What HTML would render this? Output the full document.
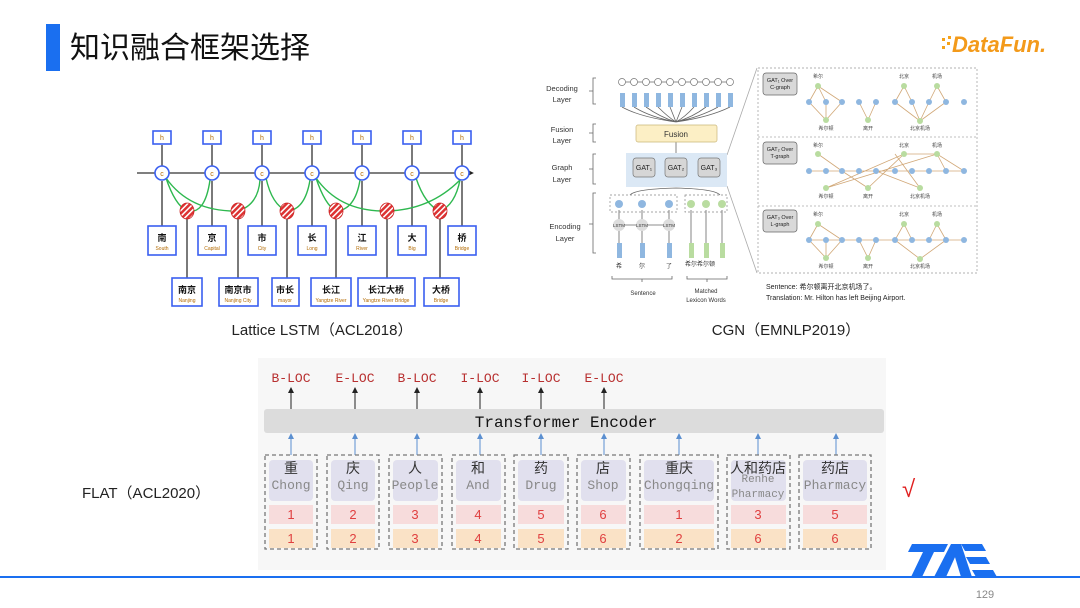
<!DOCTYPE html>
<html><head><meta charset="utf-8"><style>
html,body{margin:0;padding:0;background:#fff;}
svg{display:block;}
text{font-family:"Liberation Sans","Noto Sans CJK SC",sans-serif;}
.m text, text.m{font-family:"Liberation Mono","Noto Sans CJK SC",monospace;}
</style></head><body>
<svg width="1080" height="608" viewBox="0 0 1080 608" xmlns="http://www.w3.org/2000/svg">
<defs>
<marker id="ak" markerWidth="6" markerHeight="6" refX="3" refY="3" orient="auto"><path d="M0,0 L6,3 L0,6z" fill="#222"/></marker>
<marker id="ab" markerWidth="6" markerHeight="6" refX="3" refY="3" orient="auto"><path d="M0,0 L6,3 L0,6z" fill="#5b8fd0"/></marker>
<pattern id="hat" width="4" height="4" patternUnits="userSpaceOnUse" patternTransform="rotate(45)"><rect width="4" height="4" fill="#d33"/><rect width="1.5" height="4" fill="#fff"/></pattern>
</defs>

<!-- title -->
<rect x="46" y="24" width="14" height="47" fill="#1a6ff0"/>
<text x="70" y="58" font-size="30" fill="#111">知识融合框架选择</text>
<!-- DataFun logo -->
<g fill="#f6a21a"><rect x="942" y="38" width="3" height="3"/><rect x="947" y="42" width="3" height="3"/><rect x="942" y="46" width="3" height="3"/><rect x="948" y="36" width="3" height="3"/></g>
<text x="952" y="52" font-size="22" font-weight="bold" font-style="italic" fill="#f39a1a">DataFun.</text>

<!-- Lattice LSTM -->
<g stroke="#333" stroke-width="1.3" fill="none">
<line x1="137" y1="173" x2="470" y2="173" marker-end="url(#ak)"/>
</g>
<g stroke="#333" stroke-width="1.3">
<line x1="162" y1="166" x2="162" y2="145"/><line x1="212" y1="166" x2="212" y2="145"/><line x1="262" y1="166" x2="262" y2="145"/><line x1="312" y1="166" x2="312" y2="145"/><line x1="362" y1="166" x2="362" y2="145"/><line x1="412" y1="166" x2="412" y2="145"/><line x1="462" y1="166" x2="462" y2="145"/>
<line x1="162" y1="226" x2="162" y2="181"/><line x1="212" y1="226" x2="212" y2="181"/><line x1="262" y1="226" x2="262" y2="181"/><line x1="312" y1="226" x2="312" y2="181"/><line x1="362" y1="226" x2="362" y2="181"/><line x1="412" y1="226" x2="412" y2="181"/><line x1="462" y1="226" x2="462" y2="181"/>
<line x1="187" y1="278" x2="187" y2="218"/><line x1="238" y1="278" x2="238" y2="218"/><line x1="287" y1="278" x2="287" y2="218"/><line x1="336" y1="278" x2="336" y2="218"/><line x1="387" y1="278" x2="387" y2="218"/><line x1="440" y1="278" x2="440" y2="218"/>
</g>
<g stroke="#2eb84f" stroke-width="1.4" fill="none">
<path d="M166,178 Q175,205 187,211 Q205,215 210,180"/>
<path d="M166,178 Q190,212 238,211 Q258,205 260,180"/>
<path d="M266,178 Q272,205 287,211 Q305,210 310,180"/>
<path d="M316,178 Q325,205 336,211 Q355,210 360,180"/>
<path d="M316,178 Q340,212 387,211 Q430,210 460,180"/>
<path d="M416,178 Q425,205 440,211 Q455,205 460,180"/>
</g>
<g fill="url(#hat)" stroke="#c22" stroke-width="0.8">
<ellipse cx="187" cy="211" rx="7" ry="8"/><ellipse cx="238" cy="211" rx="7" ry="8"/><ellipse cx="287" cy="211" rx="7" ry="8"/><ellipse cx="336" cy="211" rx="7" ry="8"/><ellipse cx="387" cy="211" rx="7" ry="8"/><ellipse cx="440" cy="211" rx="7" ry="8"/>
</g>
<g fill="#fff" stroke="#3a5ff0" stroke-width="1.6">
<circle cx="162" cy="173" r="7"/><circle cx="212" cy="173" r="7"/><circle cx="262" cy="173" r="7"/><circle cx="312" cy="173" r="7"/><circle cx="362" cy="173" r="7"/><circle cx="412" cy="173" r="7"/><circle cx="462" cy="173" r="7"/>
<rect x="153" y="131" width="18" height="13"/><rect x="203" y="131" width="18" height="13"/><rect x="253" y="131" width="18" height="13"/><rect x="303" y="131" width="18" height="13"/><rect x="353" y="131" width="18" height="13"/><rect x="403" y="131" width="18" height="13"/><rect x="453" y="131" width="18" height="13"/>
<rect x="148" y="226" width="28" height="29"/><rect x="198" y="226" width="28" height="29"/><rect x="248" y="226" width="28" height="29"/><rect x="298" y="226" width="28" height="29"/><rect x="348" y="226" width="28" height="29"/><rect x="398" y="226" width="28" height="29"/><rect x="448" y="226" width="28" height="29"/>
<rect x="172" y="278" width="30" height="28"/><rect x="219" y="278" width="39" height="28"/><rect x="272" y="278" width="27" height="28"/><rect x="311" y="278" width="40" height="28"/><rect x="358" y="278" width="57" height="28"/><rect x="424" y="278" width="35" height="28"/>
</g>
<g font-size="7" fill="#b36a00" text-anchor="middle">
<text x="162" y="140">h</text><text x="212" y="140">h</text><text x="262" y="140">h</text><text x="312" y="140">h</text><text x="362" y="140">h</text><text x="412" y="140">h</text><text x="462" y="140">h</text>
<text x="162" y="176">c</text><text x="212" y="176">c</text><text x="262" y="176">c</text><text x="312" y="176">c</text><text x="362" y="176">c</text><text x="412" y="176">c</text><text x="462" y="176">c</text>
</g>
<g font-size="9" font-weight="bold" fill="#111" text-anchor="middle">
<text x="162" y="241">南</text><text x="212" y="241">京</text><text x="262" y="241">市</text><text x="312" y="241">长</text><text x="362" y="241">江</text><text x="412" y="241">大</text><text x="462" y="241">桥</text>
<text x="187" y="293">南京</text><text x="238" y="293">南京市</text><text x="285" y="293">市长</text><text x="331" y="293">长江</text><text x="386" y="293">长江大桥</text><text x="441" y="293">大桥</text>
</g>
<g font-size="5" fill="#b36a00" text-anchor="middle">
<text x="162" y="250">South</text><text x="212" y="250">Capital</text><text x="262" y="250">City</text><text x="312" y="250">Long</text><text x="362" y="250">River</text><text x="412" y="250">Big</text><text x="462" y="250">Bridge</text>
<text x="187" y="302">Nanjing</text><text x="238" y="302">Nanjing City</text><text x="285" y="302">mayor</text><text x="331" y="302">Yangtze River</text><text x="386" y="302">Yangtze River Bridge</text><text x="441" y="302">Bridge</text>
</g>
<text x="322" y="335" font-size="15" fill="#222" text-anchor="middle">Lattice LSTM（ACL2018）</text>

<!-- CGN left -->
<g font-size="7.5" fill="#333" text-anchor="middle">
<text x="562" y="91">Decoding</text><text x="562" y="102">Layer</text>
<text x="562" y="132">Fusion</text><text x="562" y="143">Layer</text>
<text x="562" y="170">Graph</text><text x="562" y="182">Layer</text>
<text x="565" y="229">Encoding</text><text x="565" y="241">Layer</text>
</g>
<g stroke="#666" fill="none" stroke-width="0.8">
<path d="M596,78 h-3 v26 h3 M593,91 h-4"/><path d="M596,124 h-3 v18 h3 M593,133 h-4"/><path d="M596,154 h-3 v30 h3 M593,169 h-4"/><path d="M596,193 h-3 v60 h3 M593,224 h-4"/>
<line x1="621" y1="82" x2="730" y2="82"/>
<path d="M622,107 Q640,117 676,122 M634,107 Q650,117 676,122 M646,107 Q660,117 676,122 M658,107 Q668,117 676,122 M670,107 L676,122 M682,107 L676,122 M694,107 Q685,117 676,122 M706,107 Q693,117 676,122 M718,107 Q700,117 676,122 M730,107 Q710,117 676,122"/>
<line x1="676" y1="142" x2="676" y2="153"/>
<path d="M630,195 Q635,189 676,188 Q715,189 720,195"/>
<line x1="619" y1="210" x2="619" y2="243"/><line x1="642" y1="210" x2="642" y2="243"/><line x1="669" y1="210" x2="669" y2="243"/>
<line x1="691" y1="210" x2="691" y2="243"/><line x1="706" y1="210" x2="706" y2="243"/><line x1="722" y1="210" x2="722" y2="243"/>
<line x1="619" y1="225" x2="669" y2="225"/>
<path d="M612,276 v3 h60 v-3 M642,279 v3 M687,276 v3 h40 v-3 M707,279 v3"/>
<line x1="727" y1="155" x2="757" y2="68" stroke="#aaa"/><line x1="727" y1="186" x2="757" y2="273" stroke="#aaa"/>
</g>
<g fill="#fff" stroke="#777" stroke-width="0.7">
<circle cx="622" cy="82" r="3.5"/><circle cx="634" cy="82" r="3.5"/><circle cx="646" cy="82" r="3.5"/><circle cx="658" cy="82" r="3.5"/><circle cx="670" cy="82" r="3.5"/><circle cx="682" cy="82" r="3.5"/><circle cx="694" cy="82" r="3.5"/><circle cx="706" cy="82" r="3.5"/><circle cx="718" cy="82" r="3.5"/><circle cx="730" cy="82" r="3.5"/>
</g>
<g fill="#8fb7e0">
<rect x="620" y="93" width="5" height="14"/><rect x="632" y="93" width="5" height="14"/><rect x="644" y="93" width="5" height="14"/><rect x="656" y="93" width="5" height="14"/><rect x="668" y="93" width="5" height="14"/><rect x="680" y="93" width="5" height="14"/><rect x="692" y="93" width="5" height="14"/><rect x="704" y="93" width="5" height="14"/><rect x="716" y="93" width="5" height="14"/><rect x="728" y="93" width="5" height="14"/>
<rect x="617" y="243" width="5" height="15"/><rect x="640" y="243" width="5" height="15"/><rect x="667" y="243" width="5" height="15"/>
<circle cx="619" cy="204" r="4"/><circle cx="642" cy="204" r="4"/><circle cx="669" cy="204" r="4"/>
</g>
<g fill="#b9dca0"><rect x="689" y="243" width="5" height="15"/><rect x="704" y="243" width="5" height="15"/><rect x="720" y="243" width="5" height="15"/>
<circle cx="691" cy="204" r="4"/><circle cx="706" cy="204" r="4"/><circle cx="722" cy="204" r="4"/></g>
<g fill="#ddd"><circle cx="619" cy="225" r="6"/><circle cx="642" cy="225" r="6"/><circle cx="669" cy="225" r="6"/></g>
<g font-size="4.5" fill="#333" text-anchor="middle"><text x="619" y="227">LSTM</text><text x="642" y="227">LSTM</text><text x="669" y="227">LSTM</text></g>
<rect x="610" y="195" width="67" height="17" fill="none" stroke="#888" stroke-dasharray="2,2" stroke-width="0.7"/>
<rect x="685" y="195" width="42" height="17" fill="none" stroke="#888" stroke-dasharray="2,2" stroke-width="0.7"/>
<rect x="636" y="125" width="81" height="17" rx="2" fill="#fcefc5" stroke="#c9b67a" stroke-width="0.7"/>
<text x="676" y="137" font-size="8" fill="#333" text-anchor="middle">Fusion</text>
<rect x="626" y="153" width="101" height="34" fill="#dbe8f5"/>
<g fill="#d6d6d6" stroke="#777" stroke-width="0.7"><rect x="633" y="158" width="22" height="19" rx="3"/><rect x="665" y="158" width="22" height="19" rx="3"/><rect x="698" y="158" width="22" height="19" rx="3"/></g>
<g font-size="7" fill="#222" text-anchor="middle"><text x="644" y="170">GAT₁</text><text x="676" y="170">GAT₂</text><text x="709" y="170">GAT₃</text></g>
<g font-size="6" fill="#333" text-anchor="middle"><text x="619" y="268">希</text><text x="642" y="268">尔</text><text x="669" y="268">了</text><text x="691" y="266">希尔</text><text x="706" y="266">希尔顿</text>
<text x="643" y="295">Sentence</text><text x="706" y="293">Matched</text><text x="706" y="302">Lexicon Words</text></g>

<!-- CGN right panel -->
<rect x="758" y="68" width="219" height="205" fill="none" stroke="#999" stroke-dasharray="2,2" stroke-width="0.7"/>
<line x1="758" y1="137" x2="977" y2="137" stroke="#aaa" stroke-dasharray="2,2" stroke-width="0.7"/>
<line x1="758" y1="206" x2="977" y2="206" stroke="#aaa" stroke-dasharray="2,2" stroke-width="0.7"/>
<g fill="#d9d9d9" stroke="#666" stroke-width="0.7"><rect x="763" y="73" width="34" height="22" rx="3"/><rect x="763" y="142" width="34" height="22" rx="3"/><rect x="763" y="210" width="34" height="22" rx="3"/></g>
<g font-size="5.5" fill="#222" text-anchor="middle"><text x="780" y="82">GAT₁ Over</text><text x="780" y="89">C-graph</text><text x="780" y="151">GAT₂ Over</text><text x="780" y="158">T-graph</text><text x="780" y="219">GAT₃ Over</text><text x="780" y="226">L-graph</text></g>
<g stroke="#d1a878" stroke-width="0.8" fill="none">
<path d="M809,102 L818,86 L842,102 M826,102 L818,86 M809,102 L826,120 L842,102 M826,102 L826,120 M859,102 L868,120 L876,102 M895,102 L904,86 L912,102 M929,102 L937,86 L946,102 M912,102 L920,121 L895,102 M929,102 L920,121 L946,102"/>
<path d="M809,171 H964 M818,154 L842,171 M826,188 L904,154 L937,154 L964,171 M826,188 L937,154 M868,188 L842,171 M868,188 L904,154 M920,188 L876,171 M920,188 L895,154 M937,154 L946,171"/>
<path d="M809,240 H964 M809,240 L818,224 L842,240 M826,240 L826,258 L842,240 M809,240 L826,258 M859,240 L868,258 L876,240 M895,240 L904,224 L912,240 M929,240 L937,224 L946,240 M895,240 L920,259 L946,240"/>
</g>
<g fill="#8fb7e0">
<circle cx="809" cy="102" r="3"/><circle cx="826" cy="102" r="3"/><circle cx="842" cy="102" r="3"/><circle cx="859" cy="102" r="3"/><circle cx="876" cy="102" r="3"/><circle cx="895" cy="102" r="3"/><circle cx="912" cy="102" r="3"/><circle cx="929" cy="102" r="3"/><circle cx="946" cy="102" r="3"/><circle cx="964" cy="102" r="3"/>
<circle cx="809" cy="171" r="3"/><circle cx="826" cy="171" r="3"/><circle cx="842" cy="171" r="3"/><circle cx="859" cy="171" r="3"/><circle cx="876" cy="171" r="3"/><circle cx="895" cy="171" r="3"/><circle cx="912" cy="171" r="3"/><circle cx="929" cy="171" r="3"/><circle cx="946" cy="171" r="3"/><circle cx="964" cy="171" r="3"/>
<circle cx="809" cy="240" r="3"/><circle cx="826" cy="240" r="3"/><circle cx="842" cy="240" r="3"/><circle cx="859" cy="240" r="3"/><circle cx="876" cy="240" r="3"/><circle cx="895" cy="240" r="3"/><circle cx="912" cy="240" r="3"/><circle cx="929" cy="240" r="3"/><circle cx="946" cy="240" r="3"/><circle cx="964" cy="240" r="3"/>
</g>
<g fill="#b9dca0">
<circle cx="818" cy="86" r="3"/><circle cx="904" cy="86" r="3"/><circle cx="937" cy="86" r="3"/><circle cx="826" cy="120" r="3"/><circle cx="868" cy="120" r="3"/><circle cx="920" cy="121" r="3"/>
<circle cx="818" cy="154" r="3"/><circle cx="904" cy="154" r="3"/><circle cx="937" cy="154" r="3"/><circle cx="826" cy="188" r="3"/><circle cx="868" cy="188" r="3"/><circle cx="920" cy="188" r="3"/>
<circle cx="818" cy="224" r="3"/><circle cx="904" cy="224" r="3"/><circle cx="937" cy="224" r="3"/><circle cx="826" cy="258" r="3"/><circle cx="868" cy="258" r="3"/><circle cx="920" cy="259" r="3"/>
</g>
<g font-size="5" fill="#444" text-anchor="middle">
<text x="818" y="78">希尔</text><text x="904" y="78">北京</text><text x="937" y="78">机场</text>
<text x="826" y="130">希尔顿</text><text x="868" y="130">离开</text><text x="920" y="130">北京机场</text>
<text x="818" y="147">希尔</text><text x="904" y="147">北京</text><text x="937" y="147">机场</text>
<text x="826" y="198">希尔顿</text><text x="868" y="198">离开</text><text x="920" y="198">北京机场</text>
<text x="818" y="216">希尔</text><text x="904" y="216">北京</text><text x="937" y="216">机场</text>
<text x="826" y="268">希尔顿</text><text x="868" y="268">离开</text><text x="920" y="268">北京机场</text>
</g>
<g font-size="7" fill="#222"><text x="766" y="289">Sentence: 希尔顿离开北京机场了。</text><text x="766" y="300">Translation:  Mr. Hilton has left Beijing Airport.</text></g>
<text x="786" y="335" font-size="15" fill="#222" text-anchor="middle">CGN（EMNLP2019）</text>

<!-- FLAT -->
<rect x="258" y="358" width="628" height="212" fill="#f7f7f7"/>
<text x="82" y="498" font-size="15" fill="#222">FLAT（ACL2020）</text>
<text x="902" y="497" font-size="24" fill="#e02020">√</text>
<g class="m" font-size="13" fill="#b83030" text-anchor="middle">
<text x="291" y="382">B-LOC</text><text x="355" y="382">E-LOC</text><text x="417" y="382">B-LOC</text><text x="480" y="382">I-LOC</text><text x="541" y="382">I-LOC</text><text x="604" y="382">E-LOC</text>
</g>
<g stroke="#222" stroke-width="1">
<line x1="291" y1="409" x2="291" y2="390" marker-end="url(#ak)"/><line x1="355" y1="409" x2="355" y2="390" marker-end="url(#ak)"/><line x1="417" y1="409" x2="417" y2="390" marker-end="url(#ak)"/><line x1="480" y1="409" x2="480" y2="390" marker-end="url(#ak)"/><line x1="541" y1="409" x2="541" y2="390" marker-end="url(#ak)"/><line x1="604" y1="409" x2="604" y2="390" marker-end="url(#ak)"/>
</g>
<rect x="264" y="409" width="620" height="24" rx="3" fill="#dcdcdc"/>
<text class="m" x="566" y="427" font-size="16" fill="#111" text-anchor="middle">Transformer Encoder</text>
<g stroke="#5b8fd0" stroke-width="1">
<line x1="291" y1="455" x2="291" y2="436" marker-end="url(#ab)"/><line x1="355" y1="455" x2="355" y2="436" marker-end="url(#ab)"/><line x1="417" y1="455" x2="417" y2="436" marker-end="url(#ab)"/><line x1="480" y1="455" x2="480" y2="436" marker-end="url(#ab)"/><line x1="541" y1="455" x2="541" y2="436" marker-end="url(#ab)"/><line x1="604" y1="455" x2="604" y2="436" marker-end="url(#ab)"/><line x1="679" y1="455" x2="679" y2="436" marker-end="url(#ab)"/><line x1="758" y1="455" x2="758" y2="436" marker-end="url(#ab)"/><line x1="836" y1="455" x2="836" y2="436" marker-end="url(#ab)"/>
</g>
<g fill="none" stroke="#777" stroke-width="1.3" stroke-dasharray="4,3">
<rect x="265" y="455" width="52" height="94"/><rect x="327" y="455" width="52" height="94"/><rect x="389" y="455" width="53" height="94"/><rect x="452" y="455" width="53" height="94"/><rect x="514" y="455" width="54" height="94"/><rect x="577" y="455" width="53" height="94"/><rect x="640" y="455" width="78" height="94"/><rect x="727" y="455" width="63" height="94"/><rect x="799" y="455" width="72" height="94"/>
</g>
<g fill="#e1e0ee">
<rect x="269" y="460" width="44" height="41" rx="4"/><rect x="331" y="460" width="44" height="41" rx="4"/><rect x="393" y="460" width="45" height="41" rx="4"/><rect x="456" y="460" width="45" height="41" rx="4"/><rect x="518" y="460" width="46" height="41" rx="4"/><rect x="581" y="460" width="45" height="41" rx="4"/><rect x="644" y="460" width="70" height="41" rx="4"/><rect x="731" y="460" width="55" height="41" rx="4"/><rect x="803" y="460" width="64" height="41" rx="4"/>
</g>
<g fill="#f7dcdc">
<rect x="269" y="505" width="44" height="19"/><rect x="331" y="505" width="44" height="19"/><rect x="393" y="505" width="45" height="19"/><rect x="456" y="505" width="45" height="19"/><rect x="518" y="505" width="46" height="19"/><rect x="581" y="505" width="45" height="19"/><rect x="644" y="505" width="70" height="19"/><rect x="731" y="505" width="55" height="19"/><rect x="803" y="505" width="64" height="19"/>
</g>
<g fill="#fae2c6">
<rect x="269" y="529" width="44" height="19"/><rect x="331" y="529" width="44" height="19"/><rect x="393" y="529" width="45" height="19"/><rect x="456" y="529" width="45" height="19"/><rect x="518" y="529" width="46" height="19"/><rect x="581" y="529" width="45" height="19"/><rect x="644" y="529" width="70" height="19"/><rect x="731" y="529" width="55" height="19"/><rect x="803" y="529" width="64" height="19"/>
</g>
<g font-size="14" fill="#333" text-anchor="middle">
<text x="291" y="473">重</text><text x="353" y="473">庆</text><text x="415" y="473">人</text><text x="478" y="473">和</text><text x="541" y="473">药</text><text x="603" y="473">店</text><text x="679" y="473">重庆</text><text x="758" y="473">人和药店</text><text x="835" y="473">药店</text>
</g>
<g class="m" font-size="13" fill="#888" text-anchor="middle">
<text x="291" y="489">Chong</text><text x="353" y="489">Qing</text><text x="415" y="489">People</text><text x="478" y="489">And</text><text x="541" y="489">Drug</text><text x="603" y="489">Shop</text><text x="679" y="489">Chongqing</text><text x="758" y="482" font-size="11">Renhe</text><text x="758" y="497" font-size="11">Pharmacy</text><text x="835" y="489">Pharmacy</text>
</g>
<g font-size="13" fill="#e04040" text-anchor="middle">
<text x="291" y="519">1</text><text x="353" y="519">2</text><text x="415" y="519">3</text><text x="478" y="519">4</text><text x="541" y="519">5</text><text x="603" y="519">6</text><text x="679" y="519">1</text><text x="758" y="519">3</text><text x="835" y="519">5</text>
<text x="291" y="543">1</text><text x="353" y="543">2</text><text x="415" y="543">3</text><text x="478" y="543">4</text><text x="541" y="543">5</text><text x="603" y="543">6</text><text x="679" y="543">2</text><text x="758" y="543">6</text><text x="835" y="543">6</text>
</g>

<!-- footer -->
<rect x="0" y="576" width="1080" height="2" fill="#1a6ff0"/>
<g fill="#1a6ff0">
<polygon points="912,544 948,544 944,552 934,552 922,577 911,577 923,552 908,552"/>
<polygon points="934,577 951,544 961,544 946,577"/>
<polygon points="951,544 961,544 972,577 961,577"/>
<polygon points="961,544 982,544 986,551 965,551"/>
<polygon points="966,557 986,557 990,564 970,564"/>
<polygon points="972,570 993,570 997,577 976,577"/>
</g>
<text x="985" y="598" font-size="11" fill="#888" text-anchor="middle">129</text>
</svg>
</body></html>
